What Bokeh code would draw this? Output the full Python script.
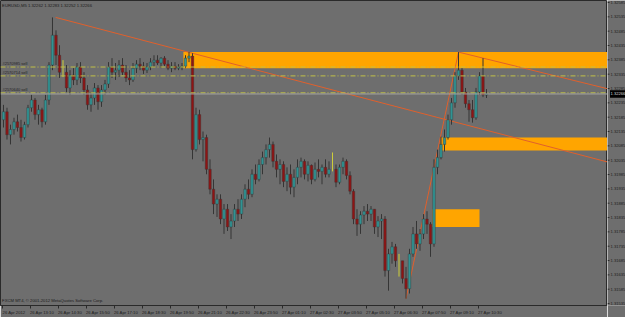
import numpy as np
from bokeh.plotting import figure
from bokeh.layouts import row
from bokeh.models import Range1d, LinearAxis, FixedTicker, Label, Span
from bokeh.core.properties import value
from bokeh.embed import file_html
from bokeh.resources import INLINE

# ---------------- data (prices in 1e-5 units, 10-minute bars) ----------------
symbol = "EURUSD,M5"
first_open_pts = 132176
high_pts = [132228,132218,132159,132183,132194,132176,132169,132228,132263,132252,
            132228,132218,132263,132377,132533,132488,132436,132384,132367,132349,
            132356,132374,132377,132342,132297,132273,132304,132297,132297,132315,
            132377,132391,132374,132384,132391,132367,132349,132374,132384,132391,
            132377,132374,132391,132401,132401,132394,132398,132384,132377,132377,
            132370,132374,132401,132412,132408,132218,132211,132135,132124,132038,
            131968,131916,131916,131882,131882,131847,131882,131899,131916,131951,
            131968,132003,132020,132038,132065,132090,132114,132100,132055,132038,
            132031,132010,132020,132003,132038,132044,132038,132031,132020,132027,
            132038,132020,132038,132031,132062,132020,132020,132044,132038,131996,
            131934,131864,131857,131875,131882,131875,131864,131840,131847,131840,
            131726,131750,131743,131708,131684,131663,131726,131802,131823,131795,
            131847,131857,131819,132038,132072,132117,132142,132194,132252,132342,
            132412,132356,132287,132245,132245,132287,132342,132391,132283]
low_pts = [132149,132107,132090,132124,132135,132100,132107,132149,132204,132176,
           132159,132149,132159,132228,132349,132367,132322,132325,132273,132263,
           132297,132297,132304,132263,132211,132204,132228,132211,132221,132263,
           132287,132322,132315,132325,132332,132308,132297,132308,132339,132349,
           132336,132339,132349,132360,132367,132356,132363,132349,132342,132349,
           132349,132349,132356,132377,132038,132065,132090,132031,131986,131916,
           131847,131837,131812,131778,131788,131760,131802,131823,131830,131871,
           131899,131906,131951,131961,131986,132020,132044,132010,131975,131951,
           131941,131927,131916,131906,131951,131975,131968,131961,131951,131961,
           131975,131951,131975,131975,131996,131941,131951,131986,131968,131916,
           131812,131771,131778,131812,131823,131823,131778,131767,131760,131629,
           131580,131674,131663,131629,131605,131552,131570,131698,131726,131719,
           131760,131778,131698,131733,131986,132038,132065,132107,132159,132218,
           132315,132263,132218,132169,132166,132176,132263,132255,132252]
close_pts = [132204,132124,132142,132169,132149,132114,132159,132218,132245,132194,
             132211,132169,132245,132367,132471,132401,132342,132342,132287,132332,
             132315,132360,132322,132280,132228,132252,132287,132239,132280,132301,
             132360,132342,132349,132367,132342,132322,132315,132356,132370,132363,
             132349,132360,132377,132384,132374,132391,132370,132356,132363,132356,
             132360,132363,132391,132398,132072,132194,132107,132114,132003,131934,
             131882,131899,131830,131864,131802,131823,131864,131847,131899,131934,
             131916,131986,131968,132020,132044,132072,132090,132031,132003,132020,
             131961,131986,131941,131975,132010,132031,131986,132017,131968,132003,
             131996,132010,131986,132003,132003,131958,132010,132031,131982,131927,
             131830,131812,131844,131857,131847,131864,131802,131823,131830,131650,
             131708,131733,131684,131684,131622,131587,131708,131778,131743,131778,
             131830,131812,131743,132010,132044,132090,132114,132176,132235,132329,
             132349,132273,132232,132211,132183,132273,132329,132262,132266]

time_labels = ["26 Apr 2012", "26 Apr 13:10", "26 Apr 14:30", "26 Apr 15:50",
               "26 Apr 17:10", "26 Apr 18:30", "26 Apr 19:50", "26 Apr 21:10",
               "26 Apr 22:30", "26 Apr 23:50", "27 Apr 01:10", "27 Apr 02:30",
               "27 Apr 03:50", "27 Apr 05:10", "27 Apr 06:30", "27 Apr 07:50",
               "27 Apr 09:10", "27 Apr 10:30"]
bars_per_label = 8
price_ticks = [1.31535 + 0.0005 * k for k in range(22)]

# supply/demand zones: start bar, end bar, top price, bottom price
zone_start = [51.4, 124.9, 122.6]
zone_end = [200.0, 200.0, 136.0]
zone_top = [1.32412, 1.32114, 1.31864]
zone_bottom = [1.32356, 1.32069, 1.31802]

# trend lines: (bar, price) pairs
trend_x0 = [14.9, 130.0, 115.0]
trend_y0 = [1.32533, 1.32412, 1.31552]
trend_x1 = [175.0, 175.0, 130.0]
trend_y1 = [1.32021, 1.32277, 1.32412]

# pending order lines
order_prices = [1.32360, 1.32329, 1.32270]
order_labels = ["#2570985 sell", "#2570714 sell", "#2570640 sell"]

# ---------------- derived ----------------
high = np.array(high_pts) / 1e5
low = np.array(low_pts) / 1e5
close = np.array(close_pts) / 1e5
open_ = np.concatenate([[first_open_pts / 1e5], close[:-1]])
n = len(close)
x = np.arange(n)

BG = "#6e6e6e"
BULL = "#2f9494"
BEAR = "#8e1414"
WICK = "#353535"
DOJI = "#cdcd3a"
AXC = "#2a2a2a"
TXT = "#1c1c1c"
FONT = "Liberation Sans"

yr = Range1d(1.315282, 1.32592)
p = figure(width=607, height=317, output_backend="svg", toolbar_location=None,
           x_range=Range1d(-0.857, 172.57), y_range=yr,
           x_axis_type=None, y_axis_type=None,
           min_border_left=0, min_border_top=0, min_border_right=0,
           min_border_bottom=10, background_fill_color=BG, border_fill_color=BG,
           outline_line_color=AXC)

# zones
p.quad(left=zone_start, right=zone_end, top=zone_top, bottom=zone_bottom,
       fill_color="#ffa500", line_color=None)

# order lines
for pr in order_prices:
    p.add_layout(Span(location=pr, dimension="width", line_color="#c0c048",
                      line_width=1, line_dash="5 2 1 2"))
p.add_layout(Span(location=close[-1], dimension="width", line_color="#a3a3a3",
                  line_width=1))

# trend lines
p.segment(x0=trend_x0, y0=trend_y0, x1=trend_x1, y1=trend_y1,
          line_color="#e0602c", line_width=1)

# candles
doji = open_ == close
bull = (close > open_) & ~doji
bear = (close < open_) & ~doji
p.segment(x0=x[~doji], y0=low[~doji], x1=x[~doji], y1=high[~doji],
          line_color=WICK, line_width=1)
p.vbar(x=x[bull], bottom=open_[bull], top=close[bull], width=0.72,
       fill_color=BULL, line_color=WICK, line_width=0.4)
p.vbar(x=x[bear], bottom=close[bear], top=open_[bear], width=0.72,
       fill_color=BEAR, line_color=WICK, line_width=0.4)
p.segment(x0=x[doji], y0=low[doji], x1=x[doji], y1=high[doji],
          line_color=DOJI, line_width=1)

# bottom time axis
centers = [bars_per_label * k + 3 for k in range(len(time_labels))]
marks = [bars_per_label * k - 0.4 for k in range(len(time_labels))]
xax = LinearAxis(ticker=FixedTicker(ticks=centers, minor_ticks=marks))
xax.major_label_overrides = {c: t for c, t in zip(centers, time_labels)}
xax.major_label_text_font_size = "4.2px"
xax.major_label_text_font = FONT
xax.major_label_text_color = TXT
xax.major_tick_out = 0
xax.major_tick_in = 0
xax.minor_tick_out = 3
xax.minor_tick_in = 0
xax.major_label_standoff = 1
xax.axis_line_color = AXC
xax.minor_tick_line_color = AXC
p.add_layout(xax, "below")

# texts inside the chart
for pr, lab in zip(order_prices, order_labels):
    p.add_layout(Label(x=-0.3, y=pr, text=lab, text_font=FONT,
                       text_font_size="4px", text_color="#232323",
                       text_baseline="bottom", y_offset=1))

title = "%s %.5f %.5f %.5f %.5f" % (symbol, open_[-1], high[-1], low[-1], close[-1])
p.add_layout(Label(x=-0.4, y=1.32575, text=title, text_font=FONT,
                   text_font_size="4.2px", text_color=TXT, text_baseline="middle"))
p.add_layout(Label(x=-0.4, y=1.31545,
                   text="FXCM MT4, \u00a9 2001-2012 MetaQuotes Software Corp.",
                   text_font=FONT, text_font_size="4.2px", text_color=TXT,
                   text_baseline="middle"))

# ---------------- price scale strip (shares the price range) ----------------
s = figure(width=18, height=317, output_backend="svg", toolbar_location=None,
           x_range=Range1d(0, 18), y_range=yr, x_axis_type=None, y_axis_type=None,
           min_border_left=0, min_border_top=0, min_border_right=0,
           min_border_bottom=10, background_fill_color=BG, border_fill_color=BG,
           outline_line_color=None)
tick_text = ["%.5f" % t for t in price_ticks]
s.segment(x0=0, x1=2, y0=price_ticks, y1=price_ticks, line_color=AXC, line_width=1)
s.text(x=3, y=price_ticks, text=tick_text, text_font=value(FONT),
       text_font_size="4.1px", text_color=TXT, text_baseline="middle")
s.quad(left=[2.5], right=[18], bottom=[close[-1] - 0.00013],
       top=[close[-1] + 0.00013], fill_color="#000000", line_color=None)
s.text(x=[3], y=[close[-1]], text=["%.5f" % close[-1]], text_font=value(FONT),
       text_font_size="4.1px", text_color="#d8d8d8", text_baseline="middle")

layout = row(p, s, spacing=0)
open("out.html", "w").write(file_html(layout, INLINE))
